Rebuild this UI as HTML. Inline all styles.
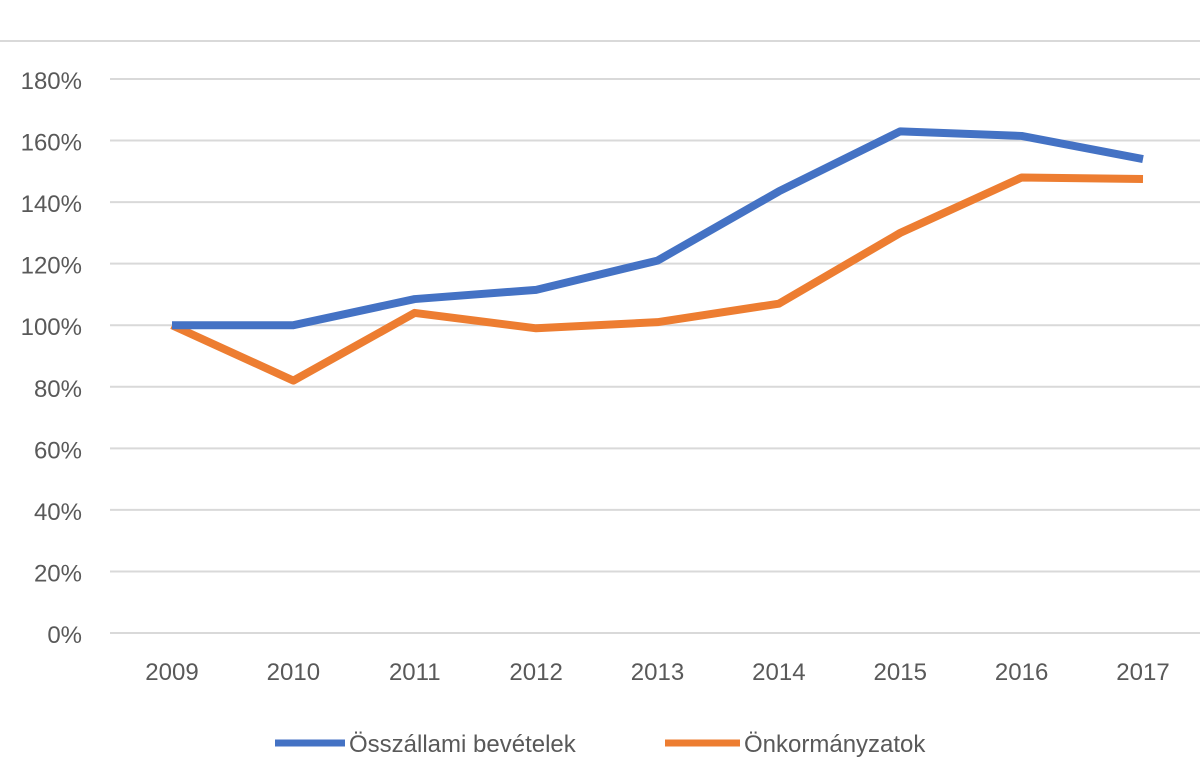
<!DOCTYPE html>
<html><head><meta charset="utf-8"><style>
html,body{margin:0;padding:0;background:#fff;}
svg{display:block;font-family:"Liberation Sans",sans-serif;}
</style></head><body>
<svg id="chart" width="1200" height="771" viewBox="0 0 1200 771">
<line x1="0" y1="41" x2="1200" y2="41" stroke="#d9d9d9" stroke-width="2"/>
<g id="grid"></g><g id="ylab"></g><g id="xlab"></g><g id="lines"></g>
<g>
<g>
<line x1="275" y1="743" x2="345" y2="743" stroke="#4472c4" stroke-width="7"/>
<text x="349" y="752" font-size="24" fill="#595959">Összállami bevételek</text></g>
<g>
<line x1="665" y1="743" x2="740" y2="743" stroke="#ed7d31" stroke-width="7"/>
<text x="744" y="752" font-size="24" fill="#595959">Önkormányzatok</text></g>
</g>
</svg>
<script>
const categories=["2009","2010","2011","2012","2013","2014","2015","2016","2017"];
const osszallami=[100,100,108.5,111.5,121,143.5,163,161.5,154];
const onkormanyzatok=[100,82,104,99,101,107,130,148,147.5];
const yTicks=[0,20,40,60,80,100,120,140,160,180];
const NS="http://www.w3.org/2000/svg";
const y=v=>633-v*(633-79)/180;
const x=i=>172+i*(1143-172)/(categories.length-1);
function mk(t,a,p){const e=document.createElementNS(NS,t);for(const k in a)e.setAttribute(k,a[k]);p.appendChild(e);return e;}
const grid=document.getElementById('grid'),yl=document.getElementById('ylab'),xl=document.getElementById('xlab'),lines=document.getElementById('lines');
yTicks.forEach(v=>{
 const g=mk('line',{x1:110,x2:1200,y1:y(v),y2:y(v),stroke:'#d9d9d9','stroke-width':2},grid);
 
 
 const t=mk('text',{x:82,y:y(v)+10,'text-anchor':'end','font-size':24,fill:'#595959'},yl);
 t.textContent=v+'%';
 
 
});
categories.forEach((c,i)=>{
 const t=mk('text',{x:x(i),y:680,'text-anchor':'middle','font-size':24,fill:'#595959'},xl);
 t.textContent=c;
 
 
});
function series(vals,color,name){
 const p=mk('polyline',{points:vals.map((v,i)=>x(i)+','+y(v)).join(' '),fill:'none',stroke:color,'stroke-width':8,'stroke-linejoin':'round'},lines);
 
 
}
series(onkormanyzatok,'#ed7d31','line-onkormanyzatok');
series(osszallami,'#4472c4','line-osszallami');
</script>
</body></html>
